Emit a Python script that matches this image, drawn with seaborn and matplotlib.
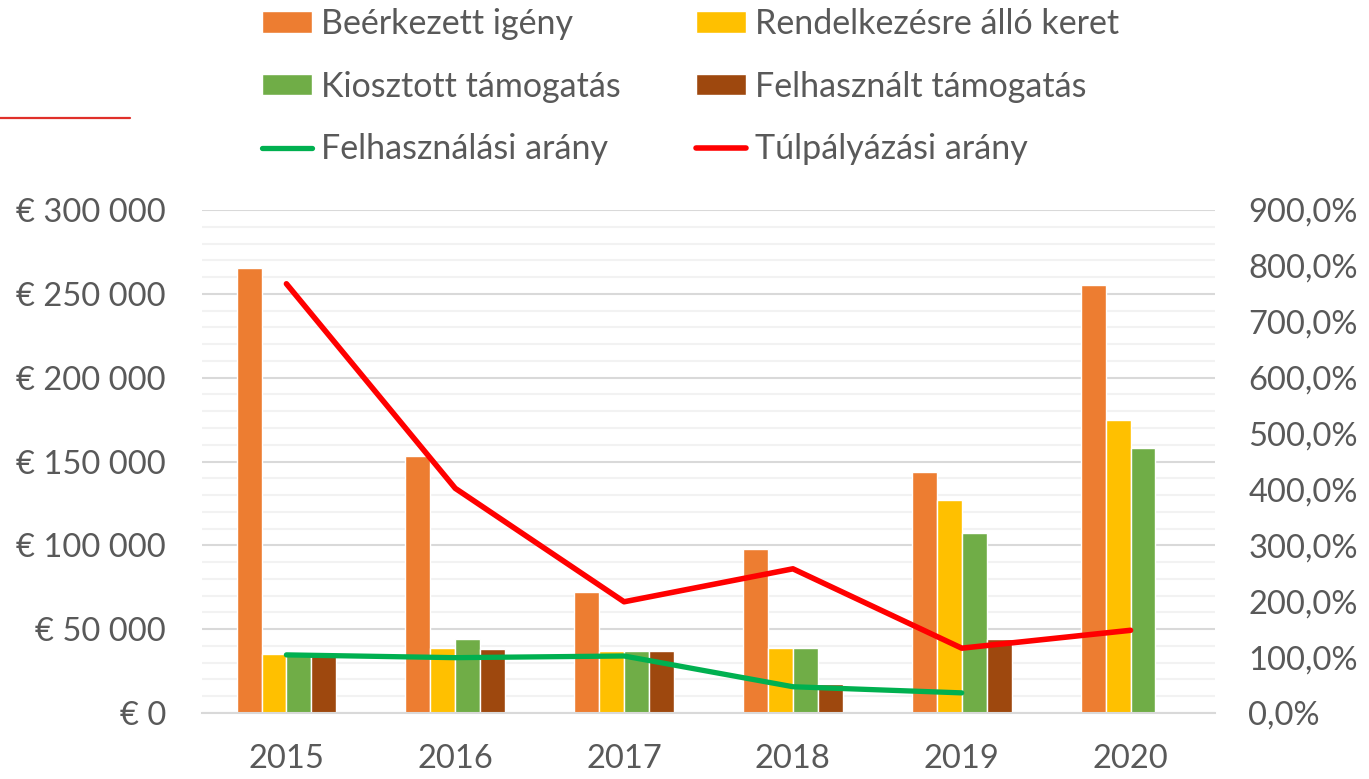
import numpy as np
import pandas as pd
import matplotlib
matplotlib.use("Agg")
import matplotlib.pyplot as plt
import seaborn as sns
from matplotlib.ticker import FuncFormatter, MultipleLocator, FixedLocator
from matplotlib.patches import Patch
from matplotlib.lines import Line2D

years = ["2015", "2016", "2017", "2018", "2019", "2020"]
beerkezett = [265500, 153500, 72000, 98000, 143500, 255500]
rendelkezesre = [35000, 38500, 37000, 38800, 127000, 175000]
kiosztott = [35000, 44000, 37000, 38700, 107500, 158000]
felhasznalt = [35000, 38000, 37000, 17500, 44000, np.nan]
felhasznalasi_arany = [104.0, 99.0, 102.0, 47.0, 36.0, np.nan]
tulpalyazasi_arany = [768.0, 402.0, 199.0, 258.0, 116.0, 148.0]

series_names = ["Beérkezett igény", "Rendelkezésre álló keret",
                "Kiosztott támogatás", "Felhasznált támogatás"]
bar_colors = ["#ED7D31", "#FFC000", "#70AD47", "#9E480E"]
line_names = ["Felhasználási arány", "Túlpályázási arány"]
line_colors = ["#00B050", "#FF0000"]
text_color = "#595959"

rows = []
for name, vals in zip(series_names, [beerkezett, rendelkezesre, kiosztott, felhasznalt]):
    for y, v in zip(years, vals):
        rows.append({"Év": y, "Sorozat": name, "Érték": v})
df = pd.DataFrame(rows)

sns.set_theme(style="white")
plt.rcParams['font.family'] = ['Lato', 'DejaVu Sans']
FS = 23.5
LFS = 24.5

W, H = 1369, 779
fig = plt.figure(figsize=(W / 100, H / 100), dpi=100)
ax = fig.add_axes([202 / W, 1 - 713 / H, (1215 - 202) / W, (713 - 210) / H])

sns.barplot(data=df, x="Év", y="Érték", hue="Sorozat", hue_order=series_names,
            order=years, palette=bar_colors, width=0.59, gap=0, saturation=1,
            errorbar=None, legend=False, ax=ax, zorder=2)

ax.set_xlim(-0.5, len(years) - 0.5)
ax.set_ylim(0, 300000)
ax.set_xlabel("")
ax.set_ylabel("")
ax.yaxis.set_major_locator(MultipleLocator(50000))
ax.yaxis.set_minor_locator(MultipleLocator(10000))
ax.yaxis.set_major_formatter(FuncFormatter(
    lambda v, p: "€ 0" if v == 0 else "€ " + f"{int(v):,}".replace(",", " ")))
ax.set_axisbelow(True)
ax.grid(which="minor", axis="y", color="#f2f2f2", lw=1.5, zorder=0)
ax.grid(which="major", axis="y", color="#d9d9d9", lw=1.5, zorder=0)
ax.tick_params(axis="y", which="both", length=0, pad=26, labelsize=FS, labelcolor=text_color)
ax.xaxis.set_minor_locator(FixedLocator(np.arange(-0.5, len(years), 1.0)))
ax.tick_params(axis="x", which="major", length=0, pad=22, labelsize=FS, labelcolor=text_color)
ax.tick_params(axis="x", which="minor", length=10, width=1.5, color="#d9d9d9", direction="out")
for s in ["left", "right", "top"]:
    ax.spines[s].set_visible(False)
ax.spines["bottom"].set_color("#d9d9d9")
ax.spines["bottom"].set_linewidth(1.5)

ax2 = ax.twinx()
ax2.set_ylim(0, 900)
ax2.yaxis.set_major_locator(MultipleLocator(100))
ax2.yaxis.set_major_formatter(FuncFormatter(lambda v, p: f"{v:.1f}".replace(".", ",") + "%"))
ax2.tick_params(axis="y", length=0, pad=24, labelsize=FS, labelcolor=text_color)
for s in ax2.spines.values():
    s.set_visible(False)
xpos = np.arange(len(years))
ax2.plot(xpos, felhasznalasi_arany, color=line_colors[0], lw=3.8, solid_capstyle="round")
ax2.plot(xpos, tulpalyazasi_arany, color=line_colors[1], lw=4.0, solid_capstyle="round")
ax2.grid(False)

handles = [Patch(facecolor=bar_colors[0]), Patch(facecolor=bar_colors[2]),
           Line2D([], [], color=line_colors[0], lw=3.8),
           Patch(facecolor=bar_colors[1]), Patch(facecolor=bar_colors[3]),
           Line2D([], [], color=line_colors[1], lw=4.0)]
labels = [series_names[0], series_names[2], line_names[0],
          series_names[1], series_names[3], line_names[1]]
leg = fig.legend(handles, labels, loc="upper left", bbox_to_anchor=(262 / W, 1 - 8 / H),
                 ncol=2, frameon=False, fontsize=LFS, borderpad=0, borderaxespad=0,
                 handlelength=1.47, handleheight=0.59, handletextpad=0.25,
                 columnspacing=2.23, labelspacing=0.9, labelcolor=text_color)

fig.add_artist(Line2D([0, 130 / W], [1 - 118 / H, 1 - 118 / H], color="#E0302A", lw=1.6))

fig.savefig("out.png", dpi=100, facecolor="white")
